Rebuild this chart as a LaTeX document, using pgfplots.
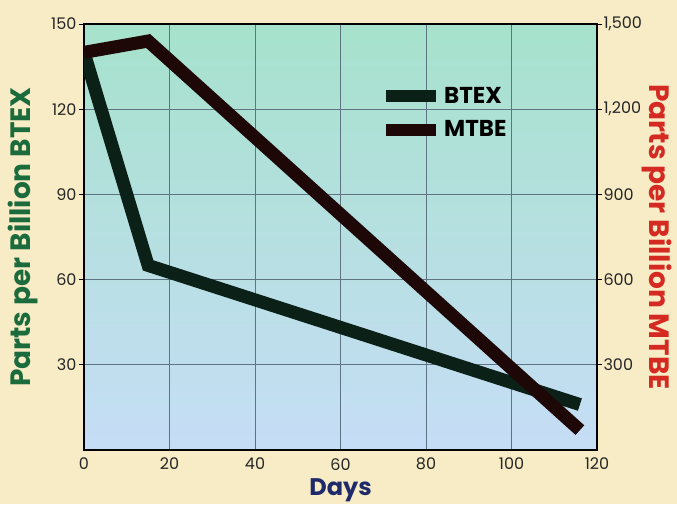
\documentclass[border=0pt]{standalone}
\usepackage{pgfplots}
\pgfplotsset{compat=1.18}
\usepackage{fontspec}
\setmainfont{Poppins}
\usetikzlibrary{backgrounds}

\definecolor{cream}{HTML}{F7ECC6}
\definecolor{mint}{HTML}{A6E2CC}
\definecolor{skyb}{HTML}{C6DDF6}
\definecolor{gridc}{HTML}{5F7482}
\definecolor{btexc}{HTML}{0B2016}
\definecolor{mtbec}{HTML}{1E0707}
\definecolor{lgreen}{HTML}{1C6B3C}
\definecolor{lred}{HTML}{D42A22}
\definecolor{lnavy}{HTML}{1E2A6A}
\tikzset{labelfont/.style={font=\fontsize{28}{28}\selectfont\bfseries}}

\begin{document}
\begin{tikzpicture}
\pgfplotsset{
  every axis/.append style={
    scale only axis, width=513pt, height=426pt,
    at={(0,0)}, anchor=south west,
    xmin=0, xmax=120,
    tick align=outside,
    major tick length=5pt,
    xtick style={draw=none},
    ytick style={black, line width=0.8pt},
    tick label style={font=\fontsize{16}{16}\selectfont, text=black!85},
    /pgf/number format/assume math mode=true,
  },
}
\begin{axis}[
  ymin=0, ymax=150,
  xtick={0,20,...,120}, ytick={30,60,...,150},
  xtick pos=bottom, ytick pos=left,
  grid=major, grid style={gridc, line width=0.8pt},
  axis line style={black, line width=1.8pt},
  axis background/.style={top color=mint, bottom color=skyb},
  xticklabel style={yshift=-2pt, inner sep=1pt},
  yticklabel style={xshift=1pt},
  xlabel={Days}, ylabel={Parts per Billion BTEX},
  xlabel style={font=\fontsize{24}{24}\selectfont\bfseries, text=lnavy, inner sep=0pt,
    at={(axis description cs:0.5,-0.095)}, anchor=center},
  ylabel style={labelfont, text=lgreen, at={(axis description cs:-0.119,0.5)}, anchor=center},
]
\addplot[btexc, line width=13pt, line join=miter, line cap=butt] coordinates {
  (0,140) (15,65) (116,16)
};
\end{axis}
\begin{axis}[
  ymin=0, ymax=1500,
  axis x line=none, axis y line*=right,
  axis line style={draw=none},
  ytick={300,600,...,1500},
  /pgf/number format/1000 sep={,},
  yticklabel style={xshift=-2pt},
  ylabel={Parts per Billion MTBE},
  ylabel style={labelfont, text=lred, at={(axis description cs:1.117,0.5)}, anchor=center, rotate=180},
  legend style={at={(rel axis cs:0.577,0.857)}, anchor=north west, draw=none, fill=none,
    font=\fontsize{23}{23}\selectfont\bfseries, row sep=12pt, inner sep=0pt},
  legend cell align=left,
  legend image code/.code={\draw[#1, line width=12pt, line cap=butt] (0pt,0pt) -- (50pt,0pt);},
]
\addlegendimage{btexc, line width=13pt}
\addlegendentry{BTEX}
\addplot[mtbec, line width=13pt, line join=miter, line cap=butt] coordinates {
  (0,1400) (15,1440) (116,70)
};
\addlegendentry{MTBE}
\end{axis}
\begin{scope}[on background layer]
\fill[cream] (-84pt,-54pt) rectangle (593pt,450pt);
\end{scope}
\pgfresetboundingbox
\useasboundingbox (-84pt,-54pt) rectangle (593pt,450pt);
\end{tikzpicture}
\end{document}
